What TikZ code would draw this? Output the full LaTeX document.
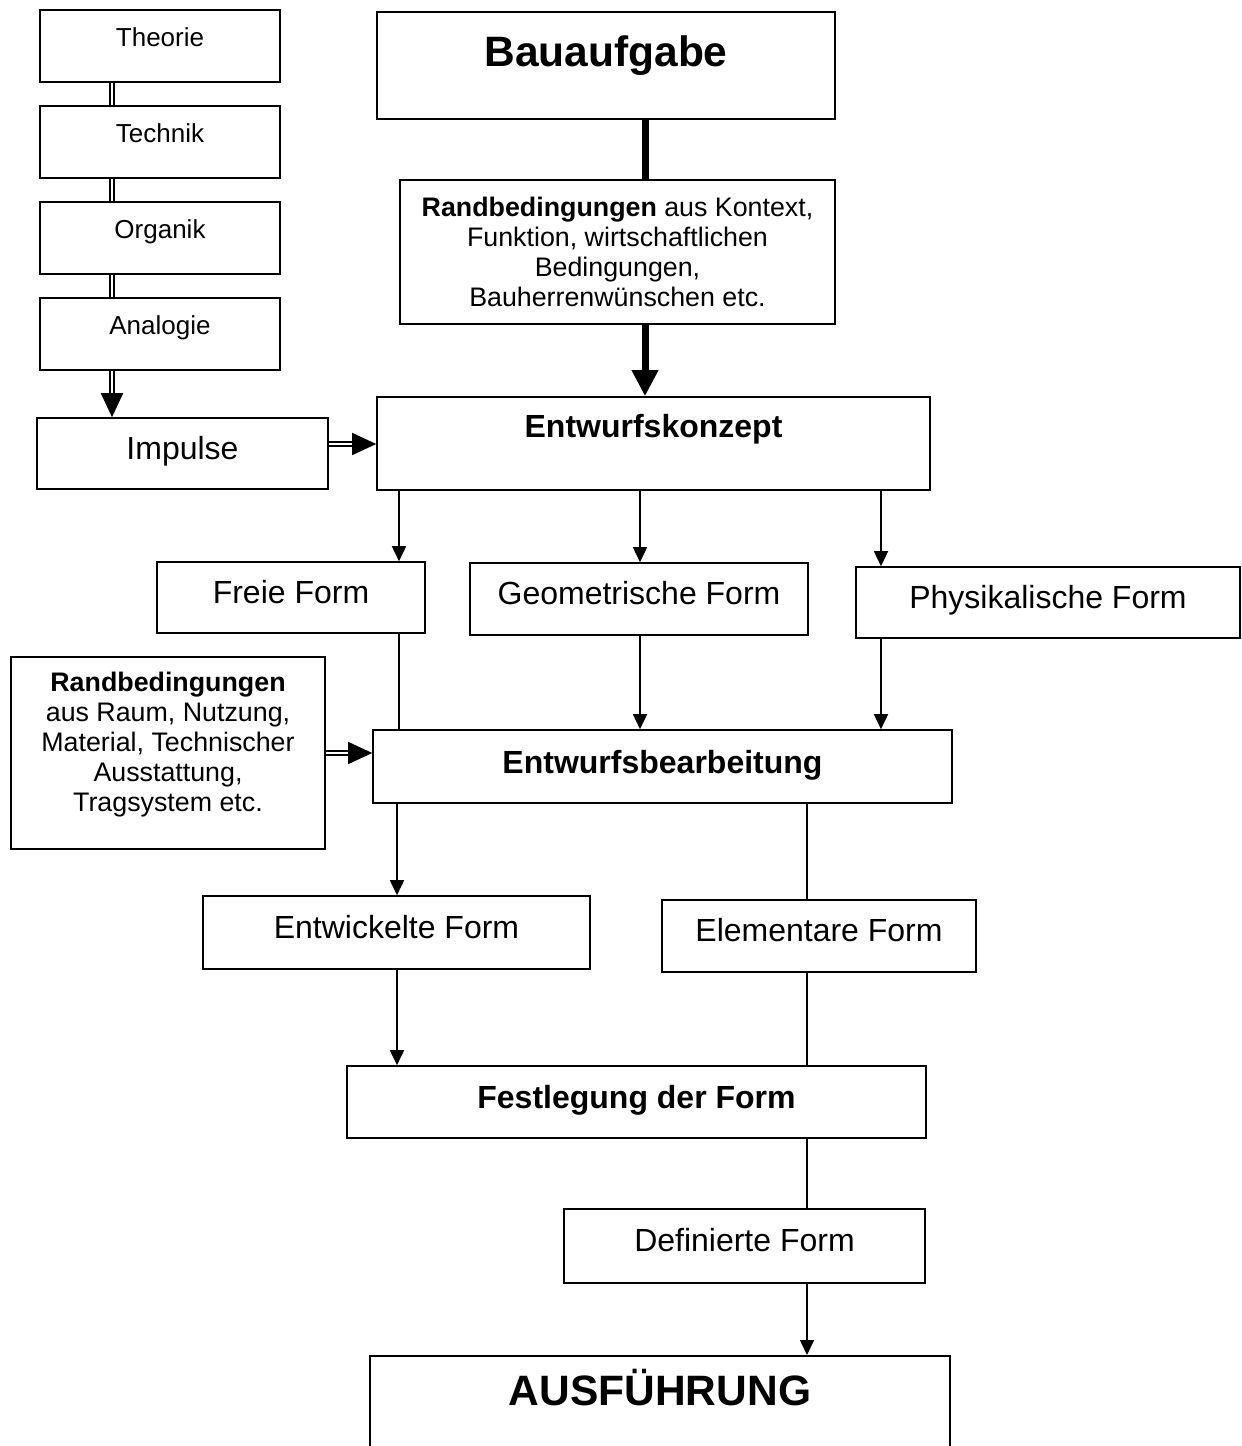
\documentclass[tikz,border=0pt]{standalone}
\usepackage{fontspec}
\setmainfont{Liberation Sans}
\usetikzlibrary{arrows.meta,positioning}

\begin{document}
\begin{tikzpicture}[x=1pt, y=-1pt,
      box/.style={draw, line width=1.6pt, align=center, inner sep=4pt},
      lbox/.style={box, minimum width=240pt, minimum height=72pt,
                   font=\fontsize{26pt}{30pt}\selectfont, text height=20pt, text depth=19pt},
      fbox/.style={box, minimum height=72pt,
                   font=\fontsize{32pt}{36pt}\selectfont, text height=24pt, text depth=13pt},
      hbox/.style={box, minimum height=72pt,
                   font=\fontsize{32pt}{36pt}\selectfont\bfseries, text height=24pt, text depth=11pt},
      tbox/.style={box, font=\fontsize{26.8pt}{30pt}\selectfont},
      big/.style={box, font=\fontsize{42.5pt}{46pt}\selectfont\bfseries},
      lnk/.style={line width=1.6pt},
      arr/.style={lnk, -{Triangle[length=15pt,width=14pt]}},
      dbl/.style={double, double distance=2.2pt, line width=1.5pt},
      dblarr/.style={dbl, -{Triangle[length=24pt,width=22pt]}},
      heavy/.style={line width=7pt},
      heavyarr/.style={heavy, -{Triangle[length=26pt,width=25pt]}}]
    \clip (0,0) rectangle (1242,1446);
    % left column
    \node[lbox] (theorie) at (160,46) {Theorie};
    \node[lbox, below=22.4pt of theorie] (technik) {Technik};
    \node[lbox, below=22.4pt of technik] (organik) {Organik};
    \node[lbox, below=22.4pt of organik] (analogie) {Analogie};
    \node[fbox, minimum width=291pt, minimum height=71pt] (impulse) at (182.5,453.5) {Impulse};
    % main column
    \node[big, minimum width=458pt, minimum height=107pt, text height=32pt, text depth=31pt] (bauaufgabe) at (606,65.5) {Bauaufgabe};
    \node[tbox, minimum width=435pt, minimum height=144pt] (rand1) at (617.5,252)
        {\textbf{Randbedingungen} aus Kontext,\\Funktion, wirtschaftlichen\\Bedingungen,\\Bauherrenwünschen etc.};
    \node[hbox, minimum width=553pt, minimum height=93pt, text depth=36pt] (konzept) at (653.5,443.5) {Entwurfskonzept};
    \node[fbox, minimum width=268pt, minimum height=71pt] (freie) at (291,597.5) {Freie Form};
    \node[fbox, minimum width=338pt] (geom) at (639,599) {Geometrische Form};
    \node[fbox, minimum width=384pt, minimum height=71pt] (phys) at (1048,602.5) {Physikalische Form};
    \node[tbox, minimum width=314pt, minimum height=192pt, text depth=22pt] (rand2) at (168,753)
        {\textbf{Randbedingungen}\\aus Raum, Nutzung,\\Material, Technischer\\Ausstattung,\\Tragsystem etc.};
    \node[hbox, minimum width=579pt, minimum height=73pt] (bearb) at (662.5,766.5) {Entwurfsbearbeitung};
    \node[fbox, minimum width=387pt, minimum height=73pt] (entw) at (396.5,932.5) {Entwickelte Form};
    \node[fbox, minimum width=314pt] (elem) at (819,936) {Elementare Form};
    \node[hbox, minimum width=579pt] (festl) at (636.5,1102) {Festlegung der Form};
    \node[fbox, minimum width=361pt, minimum height=74pt] (defin) at (744.5,1246) {Definierte Form};
    \node[big, anchor=north, minimum width=580pt, inner ysep=0pt, text height=50pt, text depth=80pt] (ausf) at (660,1355) {AUSFÜHRUNG};
    % x / y positions of the connectors
    \coordinate (xl) at (112,0);
    \coordinate (xm) at (645,0);
    \coordinate (xa) at (399,0);
    \coordinate (xb) at (640,0);
    \coordinate (xc) at (881,0);
    \coordinate (xe) at (397,0);
    \coordinate (xd) at (807,0);
    \coordinate (yi) at (0,444);
    % connectors
    \draw[dbl] (theorie.south -| xl) -- (technik.north -| xl);
    \draw[dbl] (technik.south -| xl) -- (organik.north -| xl);
    \draw[dbl] (organik.south -| xl) -- (analogie.north -| xl);
    \draw[dblarr] (analogie.south -| xl) -- (impulse.north -| xl);
    \draw[dblarr] (impulse.east |- yi) -- (konzept.west |- yi);
    \draw[dblarr] (rand2.east) -- (bearb.west |- rand2.east);
    \draw[heavy] (bauaufgabe.south -| xm) -- (rand1.north -| xm);
    \draw[heavyarr] (rand1.south -| xm) -- (konzept.north -| xm);
    \draw[arr] (konzept.south -| xa) -- (freie.north -| xa);
    \draw[arr] (konzept.south -| xb) -- (geom.north -| xb);
    \draw[arr] (konzept.south -| xc) -- (phys.north -| xc);
    \draw[lnk] (freie.south -| xa) -- (bearb.north -| xa);
    \draw[arr] (geom.south -| xb) -- (bearb.north -| xb);
    \draw[arr] (phys.south -| xc) -- (bearb.north -| xc);
    \draw[arr] (bearb.south -| xe) -- (entw.north -| xe);
    \draw[lnk] (bearb.south -| xd) -- (elem.north -| xd);
    \draw[arr] (entw.south -| xe) -- (festl.north -| xe);
    \draw[lnk] (elem.south -| xd) -- (festl.north -| xd);
    \draw[lnk] (festl.south -| xd) -- (defin.north -| xd);
    \draw[arr] (defin.south -| xd) -- (ausf.north -| xd);
  \end{tikzpicture}
\end{document}
